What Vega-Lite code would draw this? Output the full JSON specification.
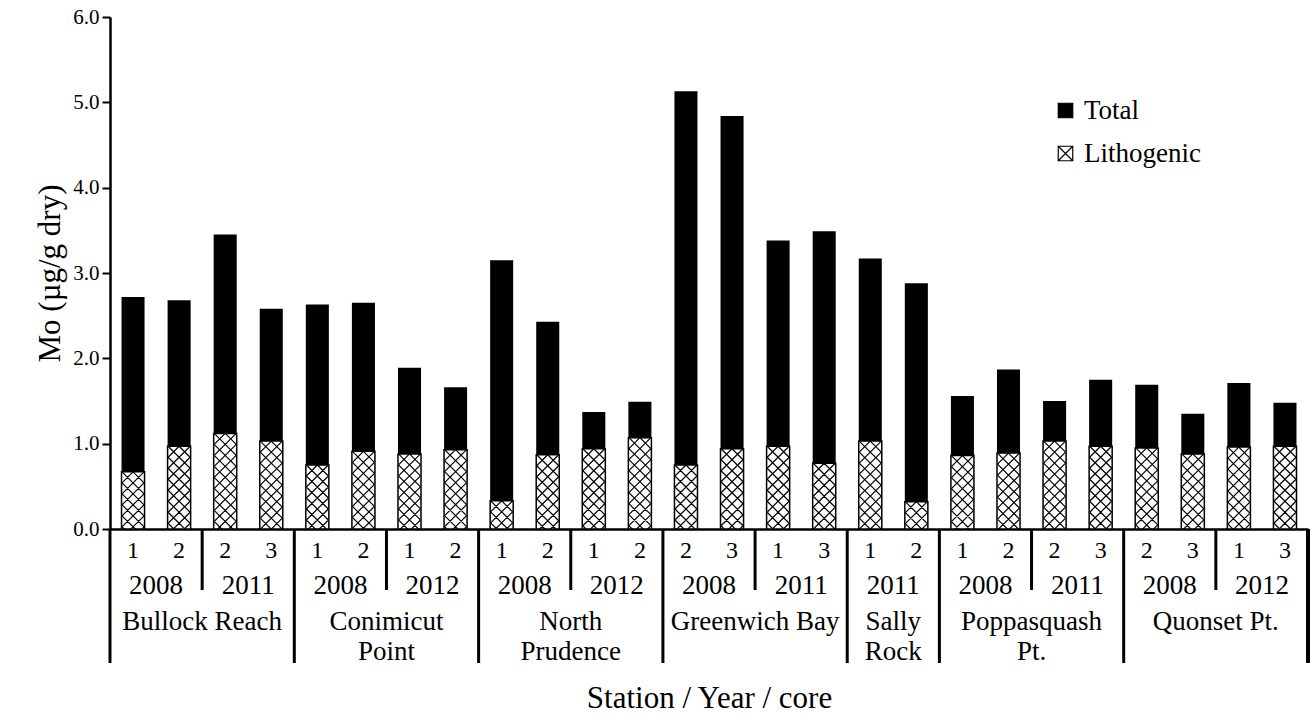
{
  "$schema": "https://vega.github.io/schema/vega-lite/v6.json",
  "background": "white",
  "padding": {"left": 34, "top": 6, "right": 5, "bottom": 5},
  "config": {
    "font": "Liberation Serif",
    "view": {"stroke": null},
    "axis": {"labelFont": "Liberation Serif", "titleFont": "Liberation Serif", "labelColor": "black", "titleColor": "black", "titleFontWeight": "normal", "grid": false},
    "legend": {"labelFont": "Liberation Serif"},
    "text": {"font": "Liberation Serif", "color": "black"}
  },
  "datasets": {
    "bars": [
      {"bar": 1, "station": "Bullock Reach", "year": "2008", "core": "1", "total": 2.72, "litho": 0.67},
      {"bar": 2, "station": "Bullock Reach", "year": "2008", "core": "2", "total": 2.68, "litho": 0.97},
      {"bar": 3, "station": "Bullock Reach", "year": "2011", "core": "2", "total": 3.45, "litho": 1.12},
      {"bar": 4, "station": "Bullock Reach", "year": "2011", "core": "3", "total": 2.58, "litho": 1.03},
      {"bar": 5, "station": "Conimicut\nPoint", "year": "2008", "core": "1", "total": 2.63, "litho": 0.75},
      {"bar": 6, "station": "Conimicut\nPoint", "year": "2008", "core": "2", "total": 2.65, "litho": 0.91},
      {"bar": 7, "station": "Conimicut\nPoint", "year": "2012", "core": "1", "total": 1.89, "litho": 0.88},
      {"bar": 8, "station": "Conimicut\nPoint", "year": "2012", "core": "2", "total": 1.66, "litho": 0.93},
      {"bar": 9, "station": "North\nPrudence", "year": "2008", "core": "1", "total": 3.15, "litho": 0.33},
      {"bar": 10, "station": "North\nPrudence", "year": "2008", "core": "2", "total": 2.43, "litho": 0.87},
      {"bar": 11, "station": "North\nPrudence", "year": "2012", "core": "1", "total": 1.37, "litho": 0.94},
      {"bar": 12, "station": "North\nPrudence", "year": "2012", "core": "2", "total": 1.49, "litho": 1.07},
      {"bar": 13, "station": "Greenwich Bay", "year": "2008", "core": "2", "total": 5.13, "litho": 0.75},
      {"bar": 14, "station": "Greenwich Bay", "year": "2008", "core": "3", "total": 4.84, "litho": 0.94},
      {"bar": 15, "station": "Greenwich Bay", "year": "2011", "core": "1", "total": 3.38, "litho": 0.97},
      {"bar": 16, "station": "Greenwich Bay", "year": "2011", "core": "3", "total": 3.49, "litho": 0.77},
      {"bar": 17, "station": "Sally\nRock", "year": "2011", "core": "1", "total": 3.17, "litho": 1.03},
      {"bar": 18, "station": "Sally\nRock", "year": "2011", "core": "2", "total": 2.88, "litho": 0.32},
      {"bar": 19, "station": "Poppasquash\nPt.", "year": "2008", "core": "1", "total": 1.56, "litho": 0.86},
      {"bar": 20, "station": "Poppasquash\nPt.", "year": "2008", "core": "2", "total": 1.87, "litho": 0.89},
      {"bar": 21, "station": "Poppasquash\nPt.", "year": "2011", "core": "2", "total": 1.50, "litho": 1.03},
      {"bar": 22, "station": "Poppasquash\nPt.", "year": "2011", "core": "3", "total": 1.75, "litho": 0.97},
      {"bar": 23, "station": "Quonset Pt.", "year": "2008", "core": "2", "total": 1.69, "litho": 0.95},
      {"bar": 24, "station": "Quonset Pt.", "year": "2008", "core": "3", "total": 1.35, "litho": 0.88},
      {"bar": 25, "station": "Quonset Pt.", "year": "2012", "core": "1", "total": 1.71, "litho": 0.96},
      {"bar": 26, "station": "Quonset Pt.", "year": "2012", "core": "3", "total": 1.48, "litho": 0.97}
    ]
  },
  "spacing": 0,
  "bounds": "flush",
  "resolve": {"scale": {"x": "independent"}},
  "vconcat": [
    {
      "width": 1198,
      "height": 512,
      "data": {"name": "bars"},
      "encoding": {
        "x": {
          "field": "bar", "type": "ordinal",
          "scale": {"paddingInner": 0.5, "paddingOuter": 0.25},
          "axis": {"labels": false, "ticks": false, "title": null, "domainColor": "black", "domainWidth": 2.5}
        }
      },
      "layer": [
        {
          "mark": {"type": "bar"},
          "encoding": {
            "y": {
              "field": "total", "type": "quantitative", "title": "Mo (µg/g dry)",
              "scale": {"domain": [0, 6]},
              "axis": {"values": [0, 1, 2, 3, 4, 5, 6], "format": ".1f", "labelFontSize": 21, "labelPadding": 3, "tickSize": 8, "tickWidth": 2, "tickColor": "black", "domainColor": "black", "domainWidth": 2.5, "titleFontSize": 31, "titlePadding": 6}
            },
            "fill": {
              "datum": "Total", "type": "nominal",
              "scale": {"domain": ["Total", "Lithogenic"], "range": ["black", "white"]},
              "legend": {
                "title": null, "orient": "none", "legendX": 942, "legendY": 80,
                "symbolType": "M-1,-1H1V1H-1ZM-1,-1L1,1M1,-1L-1,1",
                "symbolSize": 210, "symbolStrokeColor": "black", "symbolStrokeWidth": 1.2,
                "labelFont": "Liberation Serif", "labelFontSize": 27, "labelColor": "black",
                "labelOffset": 5, "rowPadding": 15
              }
            }
          }
        },
        {
          "mark": {"type": "bar", "stroke": "black", "strokeWidth": 1.5},
          "encoding": {
            "y": {"field": "litho", "type": "quantitative", "title": "Mo (µg/g dry)"},
            "fill": {"datum": "Lithogenic", "type": "nominal"}
          }
        },
        {
          "mark": {
            "type": "point", "clip": true, "filled": false, "opacity": 1,
            "stroke": "black", "strokeWidth": 1.2, "size": 4,
            "shape": "M0,0L11,11M-11,11L0,0M-11,0L11,22M-11,11L11,33M-11,22L11,44M-11,33L11,55M-11,44L11,66M-11,55L11,77M-11,66L11,88M-11,77L11,99M-11,88L11,110M-11,99L11,121M-11,22L11,0M-11,33L11,11M-11,44L11,22M-11,55L11,33M-11,66L11,44M-11,77L11,55M-11,88L11,66M-11,99L11,77M-11,110L11,88M-11,121L11,99"
          },
          "encoding": {
            "y": {"field": "litho", "type": "quantitative", "title": "Mo (µg/g dry)"}
          }
        }
      ]
    },
    {
      "width": 1198,
      "height": 61,
      "data": {"name": "bars"},
      "layer": [
        {
          "mark": {"type": "text", "fontSize": 24, "baseline": "middle", "dy": -9},
          "encoding": {
            "x": {
              "field": "bar", "type": "ordinal", "axis": null,
              "scale": {"domain": [1, 2, 3, 4, 5, 6, 7, 8, 9, 10, 11, 12, 13, 14, 15, 16, 17, 18, 19, 20, 21, 22, 23, 24, 25, 26], "paddingInner": 0, "paddingOuter": 0}
            },
            "text": {"field": "core"}
          }
        },
        {
          "transform": [
            {"window": [{"op": "row_number", "as": "r"}], "groupby": ["station", "year"], "sort": [{"field": "bar"}]},
            {"filter": "datum.r == 1"}
          ],
          "layer": [
            {
              "mark": {"type": "text", "fontSize": 27, "baseline": "middle", "dy": 26},
              "encoding": {
                "x": {"field": "bar", "type": "ordinal", "bandPosition": 1},
                "text": {"field": "year"}
              }
            },
            {
              "mark": {"type": "rule", "color": "black", "strokeWidth": 3},
              "encoding": {"x": {"field": "bar", "type": "ordinal", "bandPosition": 0}}
            }
          ]
        },
        {
          "mark": {"type": "rule", "color": "black", "strokeWidth": 3},
          "encoding": {"x": {"datum": 26, "type": "ordinal", "bandPosition": 1}}
        }
      ]
    },
    {
      "width": 1198,
      "height": 73,
      "data": {"name": "bars"},
      "transform": [
        {"window": [{"op": "row_number", "as": "r"}, {"op": "count", "as": "n"}], "groupby": ["station"], "sort": [{"field": "bar"}], "frame": [null, null]}
      ],
      "layer": [
        {
          "transform": [{"filter": "datum.r == datum.n / 2"}],
          "mark": {"type": "text", "fontSize": 27, "baseline": "top", "lineBreak": "\n", "lineHeight": 30, "dy": -18},
          "encoding": {
            "x": {
              "field": "bar", "type": "ordinal", "bandPosition": 1,
              "scale": {"domain": [1, 2, 3, 4, 5, 6, 7, 8, 9, 10, 11, 12, 13, 14, 15, 16, 17, 18, 19, 20, 21, 22, 23, 24, 25, 26], "paddingInner": 0, "paddingOuter": 0},
              "axis": {"labels": false, "ticks": false, "domain": false, "title": "Station / Year / core", "titleFontSize": 31, "titlePadding": 20}
            },
            "text": {"field": "station"}
          }
        },
        {
          "transform": [{"filter": "datum.r == 1"}],
          "mark": {"type": "rule", "color": "black", "strokeWidth": 3},
          "encoding": {"x": {"field": "bar", "type": "ordinal", "bandPosition": 0}}
        },
        {
          "mark": {"type": "rule", "color": "black", "strokeWidth": 3},
          "encoding": {"x": {"datum": 26, "type": "ordinal", "bandPosition": 1}}
        }
      ]
    }
  ]
}
